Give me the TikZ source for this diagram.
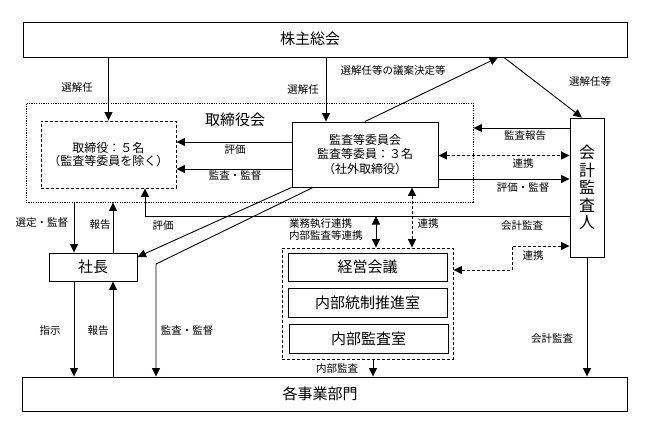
\documentclass[tikz,border=0pt]{standalone}
\usepackage{fontspec}
\setmainfont{Noto Sans CJK JP}
\usetikzlibrary{arrows.meta}
\begin{document}
\begin{tikzpicture}[x=1pt,y=-1pt,
  box/.style={draw, line width=0.9pt, inner sep=0pt, fill=white},
  big/.style={font=\fontsize{15}{17}\selectfont},
  mid/.style={font=\fontsize{12}{14.5}\selectfont, align=center},
  lbl/.style={font=\fontsize{10.5}{12.5}\selectfont, inner sep=0pt},
  dots/.style={line width=0.9pt, dash pattern=on 1.2pt off 1.2pt},
  dsh/.style={line width=0.9pt, dash pattern=on 3pt off 2pt},
  tip/.tip={Triangle[length=8.5pt,width=8pt]},
  arr/.style={line width=0.9pt, -tip},
  darr/.style={line width=0.9pt, tip-tip}]
\useasboundingbox (0,0) rectangle (649,437);

% main boxes
\node[box, minimum width=604pt, minimum height=35pt] (sh) at (325,39.5) {};
\node[big] (shT) at (310,39) {株主総会};
\node[dots, draw, minimum width=447pt, minimum height=99pt, inner sep=0pt] (bd) at (249.5,152.5) {};
\node[big] (bdT) at (235,120) {取締役会};
\node[dsh, draw, mid, minimum width=135pt, minimum height=67pt, inner sep=0pt, font=\fontsize{12}{13}\selectfont] (dir) at (108.5,154.5) {取締役：５名\\（監査等委員を除く）};
\node[box, mid, minimum width=146pt, minimum height=65pt] (ac) at (365,154.5) {監査等委員会\\監査等委員：３名\\（社外取締役）};
\node[box, align=center, minimum width=34pt, minimum height=139pt, font=\fontsize{16}{17.5}\selectfont] (ca) at (587,187.5) {会\\計\\監\\査\\人};
\node[box, big, minimum width=88pt, minimum height=28pt] (pr) at (93,267) {社長};
\node[box, minimum width=605pt, minimum height=34pt] (dv) at (324.5,394) {};
\node[big] (dvT) at (320,394) {各事業部門};
\node[dsh, draw, minimum width=171pt, minimum height=111pt, inner sep=0pt] (mg) at (367.5,303.5) {};
\node[box, big, minimum width=159pt, minimum height=28pt] (m1) at (367.5,267) {経営会議};
\node[box, big, minimum width=159pt, minimum height=29pt] (m2) at (367.5,302.5) {内部統制推進室};
\node[box, big, minimum width=159pt, minimum height=29pt] (m3) at (368.5,338.5) {内部監査室};

% helper coordinates
\coordinate (x74) at (74,0);
\coordinate (x113) at (113,0);
\coordinate (x145) at (145,0);
\coordinate (x313) at (313,0);
\coordinate (x326) at (326,0);
\coordinate (x373) at (373,0);
\coordinate (x376) at (376,0);
\coordinate (x412) at (412,0);
\coordinate (x498) at (498,0);
\coordinate (x504) at (504,0);
\coordinate (x582) at (582,0);
\coordinate (y128) at (0,128);
\coordinate (y142) at (0,142);
\coordinate (y155) at (0,155.5);
\coordinate (y169) at (0,169);
\coordinate (y179) at (0,179);
\coordinate (y216) at (0,216);
\coordinate (y246) at (0,246);
\coordinate (y257) at (0,257);
\coordinate (y270) at (0,270);
\coordinate (k1) at (156,264);
\coordinate (c1) at (512,246);
\coordinate (c2) at (512,270);

% connectors
\draw[arr] (sh.south -| dir.north) -- (dir.north);
\draw[arr] (sh.south -| x326) -- (ac.north -| x326);
\draw[arr] (ac.north) -- (sh.south -| x498);
\draw[arr] (sh.south -| x504) -- (ca.north -| x582);
\draw[arr] (ca.west |- y128) -- (bd.east |- y128);
\draw[darr, dsh] (ac.east |- y155) -- (ca.west |- y155);
\draw[arr] (ac.east |- y179) -- (ca.west |- y179);
\draw[arr] (ac.west |- y142) -- (dir.east |- y142);
\draw[arr] (ac.west |- y169) -- (dir.east |- y169);
\draw[arr] (ca.west |- y216) -- (x145 |- y216) -- (dir.south -| x145);
\draw[arr] (ac.south west) -- (pr.east |- y257);
\draw[arr] (ac.south -| x313) -- (k1) -- (dv.north -| k1);
\draw[arr] (bd.south -| x74) -- (pr.north -| x74);
\draw[arr] (pr.north -| x113) -- (bd.south -| x113);
\draw[arr] (pr.south -| x74) -- (dv.north -| x74);
\draw[arr] (dv.north -| x113) -- (pr.south -| x113);
\draw[arr] (mg.south -| x373) -- (dv.north -| x373);
\draw[darr] (x376 |- y216) -- (mg.north -| x376);
\draw[darr, dsh] (ac.south -| x412) -- (mg.north -| x412);
\draw[darr, dsh] (ca.west |- y246) -- (c1) -- (c2) -- (mg.east |- y270);
\draw[arr] (ca.south) -- (dv.north -| ca.south);

% labels
\node[lbl] (l1) at (77,88) {選解任};
\node[lbl] (l2) at (303,90) {選解任};
\node[lbl] (l3) at (393,71) {選解任等の議案決定等};
\node[lbl] (l4) at (590,81) {選解任等};
\node[lbl] (l5) at (525,136) {監査報告};
\node[lbl] (l6) at (523,164) {連携};
\node[lbl] (l7) at (523,188) {評価・監督};
\node[lbl] (l8) at (235,150) {評価};
\node[lbl] (l9) at (235,176) {監査・監督};
\node[lbl] (l10) at (163,226) {評価};
\node[lbl] (l11) at (522,226) {会計監査};
\node[lbl] (l12) at (42,223) {選定・監督};
\node[lbl] (l13) at (100,225) {報告};
\node[lbl] (l14) at (50,331) {指示};
\node[lbl] (l15) at (98,331) {報告};
\node[lbl] (l16) at (187,331) {監査・監督};
\node[lbl, align=left, anchor=west, font=\fontsize{10.5}{12}\selectfont] (l17) at (289,230) {業務執行連携\\内部監査等連携};
\node[lbl] (l18) at (428,224) {連携};
\node[lbl] (l19) at (533,256) {連携};
\node[lbl] (l20) at (552,339) {会計監査};
\node[lbl] (l21) at (337,369) {内部監査};
\end{tikzpicture}
\end{document}
